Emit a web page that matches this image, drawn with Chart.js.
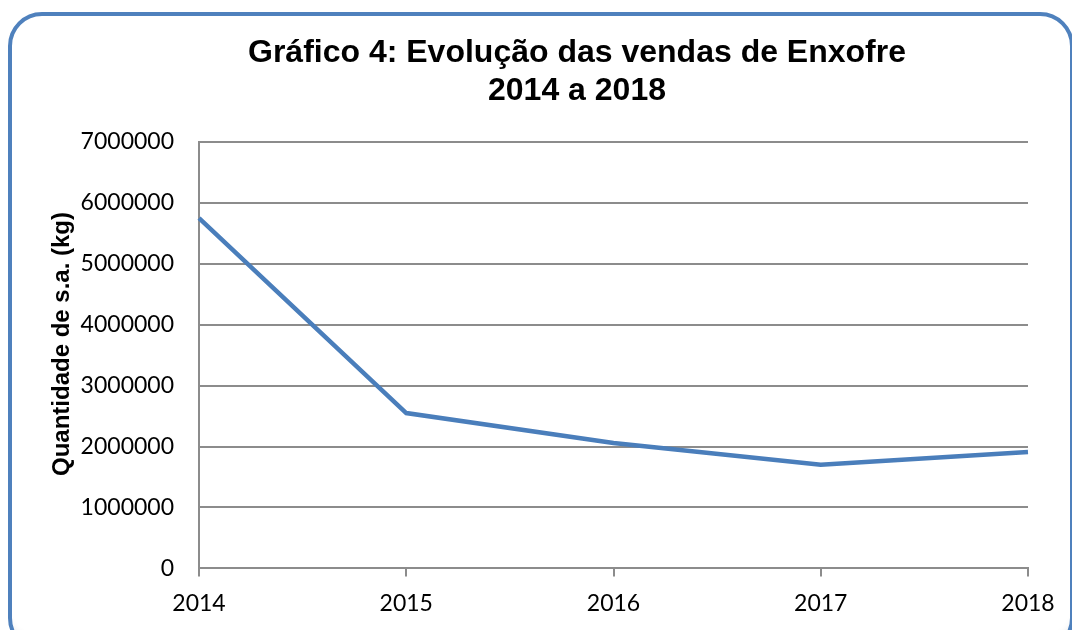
<!DOCTYPE html>
<html>
<head>
<meta charset="utf-8">
<script src="https://cdn.jsdelivr.net/npm/chart.js@4"></script>
<style>
  html, body { margin: 0; padding: 0; background: #ffffff; width: 1072px; height: 630px; overflow: hidden; }
  #frame { position: absolute; left: 8px; top: 12px; width: 1066px; height: 640px; border: 4px solid #4F81BD; border-radius: 34px; box-sizing: border-box; box-shadow: inset 0 -14px 10px -10px rgba(0,0,0,0.12); }
  #wrap { position: absolute; left: 0; top: 0; width: 1072px; height: 630px; }
</style>
</head>
<body>
<div id="frame"></div>
<div id="wrap"><canvas id="c" width="1072" height="630"></canvas></div>
<script>
const titleLines = ["Gráfico 4: Evolução das vendas de Enxofre", "2014 a 2018"];
const years = ["2014", "2015", "2016", "2017", "2018"];
const sales = [5750000, 2550000, 2060000, 1700000, 1910000];
const yAxisTitle = "Quantidade de s.a. (kg)";
const yMin = 0, yMax = 7000000, yStep = 1000000;

const titlePlugin = {
  id: 'customTitle',
  afterDraw(chart) {
    const ctx = chart.ctx;
    ctx.save();
    ctx.fillStyle = '#000';
    ctx.font = 'bold 32px "Liberation Sans", Arial, sans-serif';
    ctx.textAlign = 'center';
    ctx.textBaseline = 'middle';
    ctx.fillText(titleLines[0], 577, 53);
    ctx.fillText(titleLines[1], 577, 91);
    // y-axis title
    ctx.translate(62, 344);
    ctx.rotate(-Math.PI / 2);
    ctx.font = 'bold 24px "Liberation Sans", Arial, sans-serif';
    ctx.fillText(yAxisTitle, 0, 0);
    ctx.restore();
  }
};

new Chart(document.getElementById('c'), {
  type: 'line',
  data: {
    labels: years,
    datasets: [{
      data: sales,
      borderColor: '#4A7EBB',
      borderWidth: 4.5,
      pointRadius: 0,
      tension: 0,
      fill: false
    }]
  },
  options: {
    responsive: false,
    animation: false,
    devicePixelRatio: 1,
    layout: { padding: { left: 0, right: 44, top: 142, bottom: 0 } },
    plugins: { legend: { display: false }, title: { display: false }, tooltip: { enabled: false } },
    scales: {
      x: {
        offset: false,
        grid: { display: true, drawOnChartArea: false, drawTicks: true, tickLength: 8, color: '#8C8C8C', lineWidth: 2 },
        border: { display: true, color: '#8C8C8C', width: 2 },
        ticks: { color: '#000', font: { family: 'Lato, "Open Sans", sans-serif', size: 23 }, padding: 13, maxRotation: 0 }
      },
      y: {
        min: yMin, max: yMax,
        afterFit(scale) { scale.width = 199; },
        ticks: { stepSize: yStep, color: '#000', font: { family: 'Lato, "Open Sans", sans-serif', size: 23 }, padding: 25,
          callback: (v) => String(v) },
        grid: { color: '#8C8C8C', lineWidth: 2, drawTicks: false },
        border: { display: true, color: '#8C8C8C', width: 2 },
        title: { display: false }
      }
    }
  },
  plugins: [titlePlugin]
});
</script>
</body>
</html>
